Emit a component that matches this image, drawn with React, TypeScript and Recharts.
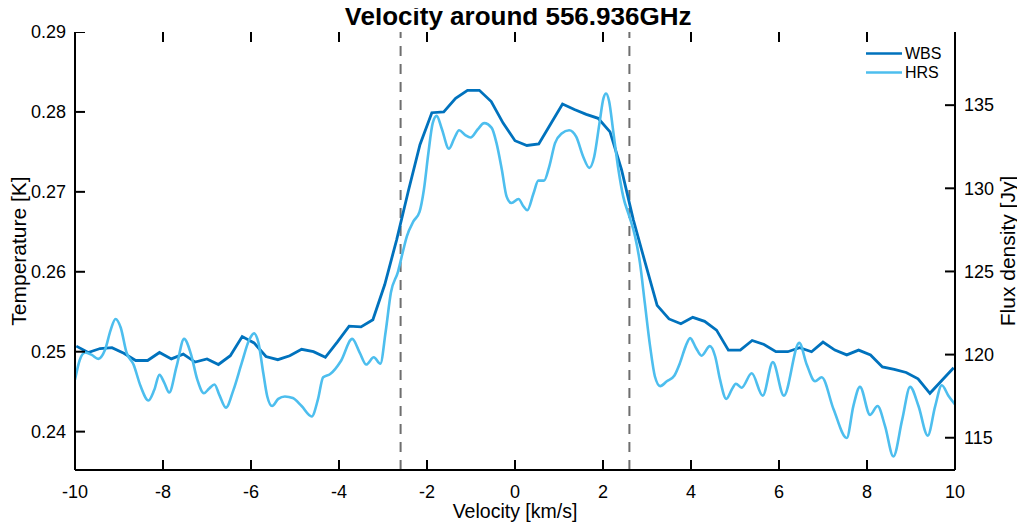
import React from "react";
import { ComposedChart, Line, Scatter, XAxis, YAxis, ReferenceLine, Legend } from "recharts";

// ---- Data ----
const xTicks = [-10, -8, -6, -4, -2, 0, 2, 4, 6, 8, 10];
const tempTicks = [0.24, 0.25, 0.26, 0.27, 0.28, 0.29];
const fluxTicks = [115, 120, 125, 130, 135];
const xDomain = [-10, 10];
const tempDomain = [0.2352, 0.29];
const fluxDomain = [113.06, 139.4];
const markerLines = [-2.6, 2.6];

const wbsV = [
  -9.97, -9.7, -9.43, -9.16, -8.89, -8.62, -8.35, -8.08, -7.81, -7.54, -7.27, -7.0, -6.74, -6.47, -6.2,
  -5.93, -5.66, -5.39, -5.12, -4.85, -4.58, -4.31, -4.04, -3.77, -3.5, -3.23, -2.96, -2.69, -2.42, -2.16,
  -1.89, -1.62, -1.35, -1.08, -0.81, -0.54, -0.27, 0.0, 0.27, 0.54, 0.81, 1.08, 1.35, 1.62, 1.89, 2.16,
  2.42, 2.69, 2.96, 3.23, 3.5, 3.77, 4.04, 4.31, 4.58, 4.85, 5.12, 5.39, 5.66, 5.93, 6.2, 6.47, 6.74,
  7.0, 7.27, 7.54, 7.81, 8.08, 8.35, 8.62, 8.89, 9.16, 9.43, 9.7, 9.97,
];
const wbsT = [
  0.2507, 0.2499, 0.2504, 0.2505, 0.2498, 0.2489, 0.2489, 0.2499, 0.2491, 0.2497, 0.2487, 0.2491, 0.2484,
  0.2495, 0.2519, 0.2511, 0.2494, 0.249, 0.2495, 0.2503, 0.25, 0.2493, 0.2512, 0.2532, 0.2531, 0.254,
  0.2584, 0.264, 0.2702, 0.2759, 0.2799, 0.28, 0.2817, 0.2827, 0.2827, 0.2813, 0.2786, 0.2764, 0.2758,
  0.276, 0.2785, 0.281, 0.2803, 0.2797, 0.2792, 0.2775, 0.2728, 0.2665, 0.2611, 0.2558, 0.2541, 0.2535,
  0.2543, 0.2538, 0.2527, 0.2502, 0.2502, 0.2514, 0.2509, 0.25, 0.25, 0.2505, 0.25, 0.2512, 0.2502,
  0.2496, 0.2502, 0.2496, 0.2481, 0.2478, 0.2474, 0.2466, 0.2448, 0.2464, 0.248,
];

const hrsV = [
  -10.0, -9.89, -9.77, -9.62, -9.47, -9.32, -9.19, -9.08, -8.96, -8.83, -8.67, -8.51, -8.33, -8.2, -8.08,
  -7.97, -7.86, -7.69, -7.52, -7.37, -7.22, -7.07, -6.95, -6.83, -6.72, -6.57, -6.4, -6.21, -6.04, -5.93,
  -5.83, -5.72, -5.63, -5.52, -5.38, -5.23, -5.05, -4.85, -4.62, -4.48, -4.36, -4.2, -3.96, -3.7, -3.53,
  -3.38, -3.21, -3.06, -2.94, -2.82, -2.66, -2.54, -2.46, -2.31, -2.17, -2.07, -1.97, -1.87, -1.78, -1.67,
  -1.5, -1.38, -1.27, -1.13, -1.01, -0.85, -0.7, -0.53, -0.42, -0.3, -0.19, -0.08, 0.08, 0.19, 0.28, 0.42,
  0.53, 0.66, 0.78, 0.91, 1.06, 1.23, 1.39, 1.55, 1.69, 1.8, 1.92, 2.01, 2.07, 2.14, 2.23, 2.35, 2.46,
  2.6, 2.73, 2.84, 2.95, 3.07, 3.18, 3.3, 3.45, 3.62, 3.75, 3.88, 3.98, 4.11, 4.24, 4.43, 4.55, 4.66,
  4.8, 4.93, 5.02, 5.15, 5.38, 5.63, 5.86, 6.11, 6.46, 6.63, 6.82, 6.97, 7.24, 7.54, 7.69, 7.84, 8.07,
  8.24, 8.41, 8.6, 8.8, 8.98, 9.17, 9.38, 9.55, 9.7, 9.85, 10.0,
];
const hrsT = [
  0.2465, 0.249, 0.2499, 0.2496, 0.2491, 0.2502, 0.2527, 0.2541, 0.253, 0.2499, 0.2484, 0.2457, 0.2439,
  0.2452, 0.2471, 0.2461, 0.2449, 0.2482, 0.2516, 0.2498, 0.2465, 0.2448, 0.2454, 0.2459, 0.2446, 0.243,
  0.2452, 0.2486, 0.2515, 0.2523, 0.2511, 0.2473, 0.2444, 0.2432, 0.2441, 0.2444, 0.2442, 0.2432, 0.2419,
  0.244, 0.2468, 0.2472, 0.2488, 0.2516, 0.2499, 0.2484, 0.2493, 0.2485, 0.2525, 0.2574, 0.26, 0.2627,
  0.2644, 0.2663, 0.2675, 0.2703, 0.2748, 0.2786, 0.2795, 0.278, 0.2754, 0.2767, 0.2777, 0.2771, 0.2768,
  0.2778, 0.2786, 0.278, 0.2761, 0.2728, 0.2694, 0.2686, 0.2691, 0.2682, 0.2677, 0.2698, 0.2714, 0.2714,
  0.2732, 0.2761, 0.2773, 0.2777, 0.2769, 0.2744, 0.273, 0.2744, 0.2786, 0.2817, 0.2823, 0.2813, 0.2777,
  0.2728, 0.2694, 0.2669, 0.2644, 0.2611, 0.2561, 0.2507, 0.2469, 0.2457, 0.2463, 0.247, 0.2486, 0.2507,
  0.2517, 0.2505, 0.2495, 0.2507, 0.2494, 0.2465, 0.2441, 0.2453, 0.246, 0.2455, 0.2473, 0.2445, 0.2487,
  0.2445, 0.2511, 0.2484, 0.2463, 0.2468, 0.2428, 0.2392, 0.2432, 0.2456, 0.2421, 0.2432, 0.2407, 0.2369,
  0.2415, 0.2456, 0.2432, 0.2395, 0.2432, 0.2458, 0.2445, 0.2434,
];

const wbsData = wbsV.map((v, i) => ({ v, t: wbsT[i] }));
const hrsData = hrsV.map((v, i) => ({ v, t: hrsT[i] }));

// tick-mark anchor points (placed through the axis scales)
const bottomTickPts = xTicks.map((v) => ({ v, t: tempDomain[0] }));
const leftTickPts = tempTicks.map((t) => ({ v: xDomain[0], t }));
const rightTickPts = fluxTicks.map((f) => ({ v: xDomain[1], t: f }));

// ---- Styles ----
const FONT = '"Liberation Sans", Arial, Helvetica, sans-serif';
const WBS_COLOR = "#0072BD";
const HRS_COLOR = "#4DBEEE";
const PLOT_H = 438;
const TICK_PX = 10;
const tickDt = ((tempDomain[1] - tempDomain[0]) * TICK_PX) / PLOT_H;

const upTick = (p: any) => (
  <path d={`M${p.cx},${p.cy}L${p.cx},${p.cy - TICK_PX}`} stroke="#000" strokeWidth={2} fill="none" />
);
const rightwardTick = (p: any) => (
  <path d={`M${p.cx},${p.cy}L${p.cx + TICK_PX},${p.cy}`} stroke="#000" strokeWidth={2} fill="none" />
);
const leftwardTick = (p: any) => (
  <path d={`M${p.cx},${p.cy}L${p.cx - TICK_PX},${p.cy}`} stroke="#000" strokeWidth={2} fill="none" />
);

function BottomTick(props: any) {
  const { x, y, payload } = props;
  return (
    <text x={x} y={y + 28} textAnchor="middle" fontSize={18} fontFamily={FONT} fill="#000">
      {payload.value}
    </text>
  );
}
function LeftTick(props: any) {
  const { x, y, payload } = props;
  return (
    <text x={x - 9} y={y} dy="0.35em" textAnchor="end" fontSize={18} fontFamily={FONT} fill="#000">
      {Number(payload.value).toFixed(2)}
    </text>
  );
}
function RightTick(props: any) {
  const { x, y, payload } = props;
  return (
    <text x={x + 9} y={y} dy="0.35em" textAnchor="start" fontSize={18} fontFamily={FONT} fill="#000">
      {payload.value}
    </text>
  );
}

const renderLegend = () => (
  <svg width={100} height={46} style={{ display: "block" }}>
    <line x1={8} x2={44} y1={15.5} y2={15.5} stroke={WBS_COLOR} strokeWidth={2.6} />
    <text x={47} y={15.5} dy="0.35em" fontSize={16} fontFamily={FONT} fill="#000">WBS</text>
    <line x1={8} x2={44} y1={34.5} y2={34.5} stroke={HRS_COLOR} strokeWidth={2.6} />
    <text x={47} y={34.5} dy="0.35em" fontSize={16} fontFamily={FONT} fill="#000">HRS</text>
  </svg>
);

const overlayText: React.CSSProperties = {
  position: "absolute",
  fontFamily: FONT,
  color: "#000",
  whiteSpace: "nowrap",
  pointerEvents: "none",
};

export default function App() {
  return (
    <div style={{ position: "relative", width: 1010, height: 515, fontFamily: FONT }}>
      <ComposedChart width={1010} height={515} margin={{ top: 24, right: 0, bottom: 0, left: 0 }}>
        <XAxis
          xAxisId="bottom"
          type="number"
          dataKey="v"
          domain={xDomain}
          ticks={xTicks}
          interval={0}
          allowDataOverflow
          height={53}
          tickSize={0}
          tickMargin={0}
          tickLine={false}
          axisLine={{ stroke: "#000", strokeWidth: 2 }}
          tick={BottomTick}
        />
        <XAxis
          xAxisId="top"
          orientation="top"
          type="number"
          dataKey="v"
          domain={xDomain}
          ticks={xTicks}
          interval={0}
          allowDataOverflow
          height={0}
          tickSize={0}
          tickMargin={0}
          tickLine={false}
          tick={false}
          axisLine={{ stroke: "#000", strokeWidth: 2 }}
        />
        <YAxis
          yAxisId="left"
          type="number"
          domain={tempDomain}
          ticks={tempTicks}
          interval={0}
          allowDataOverflow
          width={67}
          tickSize={0}
          tickMargin={0}
          tickLine={false}
          axisLine={{ stroke: "#000", strokeWidth: 2 }}
          tick={LeftTick}
        />
        <YAxis
          yAxisId="right"
          orientation="right"
          type="number"
          domain={fluxDomain}
          ticks={fluxTicks}
          interval={0}
          allowDataOverflow
          width={63}
          tickSize={0}
          tickMargin={0}
          tickLine={false}
          axisLine={{ stroke: "#000", strokeWidth: 2 }}
          tick={RightTick}
        />
        {markerLines.map((m) => (
          <ReferenceLine
            key={`m${m}`}
            xAxisId="bottom"
            yAxisId="left"
            x={m}
            stroke="#6e6e6e"
            strokeWidth={2}
            strokeDasharray="10 8"
            ifOverflow="hidden"
          />
        ))}
        <Line
          xAxisId="bottom"
          yAxisId="left"
          data={wbsData}
          dataKey="t"
          name="WBS"
          type="linear"
          stroke={WBS_COLOR}
          strokeWidth={2.8}
          dot={false}
          activeDot={false}
          isAnimationActive={false}
        />
        <Line
          xAxisId="bottom"
          yAxisId="left"
          data={hrsData}
          dataKey="t"
          name="HRS"
          type="monotone"
          stroke={HRS_COLOR}
          strokeWidth={2.6}
          dot={false}
          activeDot={false}
          isAnimationActive={false}
        />
        {xTicks.map((v) => (
          <ReferenceLine
            key={`tt${v}`}
            xAxisId="bottom"
            yAxisId="left"
            segment={[{ x: v, y: tempDomain[1] }, { x: v, y: tempDomain[1] - tickDt }]}
            stroke="#000"
            strokeWidth={2}
            ifOverflow="visible"
          />
        ))}
        <Scatter
          xAxisId="bottom"
          yAxisId="left"
          data={bottomTickPts}
          dataKey="t"
          shape={upTick}
          legendType="none"
          isAnimationActive={false}
        />
        <Scatter
          xAxisId="bottom"
          yAxisId="left"
          data={leftTickPts}
          dataKey="t"
          shape={rightwardTick}
          legendType="none"
          isAnimationActive={false}
        />
        <Scatter
          xAxisId="bottom"
          yAxisId="right"
          data={rightTickPts}
          dataKey="t"
          shape={leftwardTick}
          legendType="none"
          isAnimationActive={false}
        />
        <Legend
          layout="vertical"
          align="center"
          verticalAlign="middle"
          content={renderLegend}
          wrapperStyle={{ position: "absolute", left: 850, top: 30, width: 100, height: 46 }}
        />
      </ComposedChart>
      <div style={{ ...overlayText, left: 0, top: -5, width: 1020, textAlign: "center", fontWeight: "bold", fontSize: 26, lineHeight: "26px" }}>
        Velocity around 556.936GHz
      </div>
      <div style={{ ...overlayText, left: 0, top: 493, width: 1014, textAlign: "center", fontSize: 19.5, lineHeight: "20px" }}>
        Velocity [km/s]
      </div>
      <div
        style={{
          ...overlayText,
          left: 11 - 100,
          top: 243 - 12,
          width: 200,
          textAlign: "center",
          fontSize: 21,
          lineHeight: "24px",
          transform: "rotate(-90deg)",
        }}
      >
        Temperature [K]
      </div>
      <div
        style={{
          ...overlayText,
          left: 1000 - 100,
          top: 243 - 12,
          width: 200,
          textAlign: "center",
          fontSize: 21,
          lineHeight: "24px",
          transform: "rotate(-90deg)",
        }}
      >
        Flux density [Jy]
      </div>
    </div>
  );
}
